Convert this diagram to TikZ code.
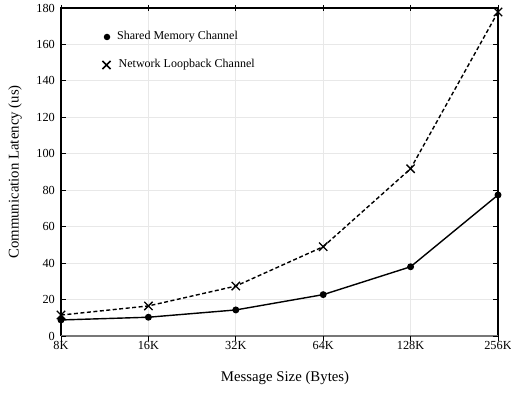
\documentclass[tikz,border=0pt]{standalone}
\usepackage{fontspec}
\setmainfont{Liberation Serif}
\usetikzlibrary{shapes.misc}
\definecolor{gridc}{HTML}{E8E8E8}
\definecolor{baseaxis}{HTML}{777777}
\begin{document}
\begin{tikzpicture}[x=1pt,y=-1pt,
  gridline/.style={draw=gridc,line width=0.9pt},
  axisline/.style={draw=black,line width=1.1pt},
  tickmark/.style={draw=black,line width=0.8pt},
  ticklab/.style={font=\fontsize{12.3}{12.3}\selectfont,inner sep=0pt},
  axlab/.style={font=\fontsize{14.8}{14.8}\selectfont,inner sep=0pt},
  leglab/.style={font=\fontsize{12}{12}\selectfont,inner sep=0pt,anchor=west},
  dotmark/.style={circle,fill=black,inner sep=0pt,minimum size=7pt},
  crossmark/.style={cross out,draw=black,line width=1.3pt,inner sep=0pt,minimum size=7pt},
  shmline/.style={draw=black,line width=1.4pt},
  netline/.style={draw=black,line width=1.4pt,dash pattern=on 4pt off 2.5pt}]
\useasboundingbox (0,0) rectangle (511,395);
\def\xa{61}\def\xs{87.4}\def\yb{336}\def\ys{1.8222}
% grid
\foreach \i in {1,...,5}{\draw[gridline] ({\xa+\xs*\i},8) -- ({\xa+\xs*\i},\yb);}
\foreach \v in {20,40,...,160}{\draw[gridline] (\xa,{\yb-\ys*\v}) -- (498,{\yb-\ys*\v});}
% axes
\draw[axisline] (\xa,\yb) -- (\xa,8) -- (498,8) -- (498,\yb);
\draw[draw=baseaxis,line width=2pt] (\xa,\yb) -- (498,\yb);
% y ticks and labels
\foreach \v in {0,20,...,180}{
  \draw[tickmark] (\xa,{\yb-\ys*\v}) -- ({\xa+5},{\yb-\ys*\v});
  \draw[tickmark] (498,{\yb-\ys*\v}) -- (493,{\yb-\ys*\v});
  \node[ticklab,anchor=east] (yl\v) at (55,{\yb-\ys*\v}) {\v};
}
% x ticks and labels
\foreach \i/\t in {0/8K,1/16K,2/32K,3/64K,4/128K,5/256K}{
  \draw[tickmark] ({\xa+\xs*\i},5) -- ({\xa+\xs*\i},11);
  \draw[tickmark] ({\xa+\xs*\i},\yb) -- ({\xa+\xs*\i},{\yb+5});
  \node[ticklab,anchor=north] (xl\i) at ({\xa+\xs*\i},{\yb+5}) {\t};
}
% axis labels
\node[axlab] (xlab) at (285,378) {Message Size (Bytes)};
\node[axlab,rotate=90] (ylab) at (15,172) {Communication Latency (us)};
% data
\foreach \i/\v in {0/8.8,1/10.3,2/14.3,3/22.7,4/38,5/77.4}{
  \coordinate (s\i) at ({\xa+\xs*\i},{\yb-\ys*\v});}
\foreach \i/\v in {0/11.5,1/16.5,2/27.4,3/49,4/91.8,5/177.8}{
  \coordinate (n\i) at ({\xa+\xs*\i},{\yb-\ys*\v});}
\draw[netline] (n0) -- (n1) -- (n2) -- (n3) -- (n4) -- (n5);
\draw[shmline] (s0) -- (s1) -- (s2) -- (s3) -- (s4) -- (s5);
\foreach \i in {0,...,5}{
  \node[dotmark] (sm\i) at (s\i) {};
  \node[crossmark] (nm\i) at (n\i) {};
}
% legend
\node[dotmark,minimum size=6.5pt] (lg1) at (107,37) {};
\node[leglab] (lt1) at (117,37) {Shared Memory Channel};
\node[crossmark,line width=1.7pt,minimum size=6.5pt] (lg2) at (106.5,65) {};
\node[leglab] (lt2) at (118.5,65) {Network Loopback Channel};
\end{tikzpicture}
\end{document}
